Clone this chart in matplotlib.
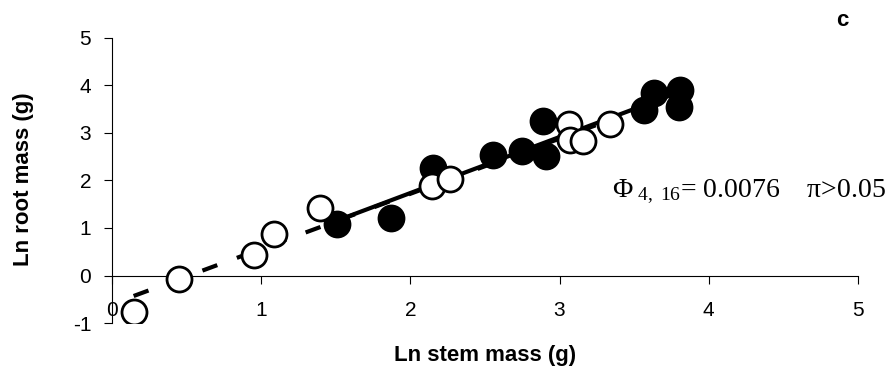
import numpy as np
import matplotlib
matplotlib.use("Agg")
import matplotlib.pyplot as plt

# open circles (dashed fit)
open_x = [0.145, 0.45, 0.953, 1.087, 1.395, 2.147, 2.266, 3.065, 3.07, 3.155, 3.34]
open_y = [-0.76, -0.08, 0.44, 0.875, 1.41, 1.88, 2.02, 3.19, 2.85, 2.82, 3.19]
# filled circles (solid fit)
fill_x = [1.507, 1.869, 2.155, 2.556, 2.75, 2.91, 2.89, 3.565, 3.63, 3.81, 3.80]
fill_y = [1.08, 1.20, 2.26, 2.54, 2.61, 2.51, 3.24, 3.48, 3.84, 3.90, 3.54]

xticks = [0, 1, 2, 3, 4, 5]
yticks = [-1, 0, 1, 2, 3, 4, 5]

plt.rcParams['font.family'] = ['Liberation Sans', 'DejaVu Sans']
plt.rcParams['axes.unicode_minus'] = False
plt.rcParams['mathtext.fontset'] = 'custom'
plt.rcParams['mathtext.rm'] = 'Liberation Serif'
plt.rcParams['mathtext.it'] = 'Liberation Serif'

fig = plt.figure(figsize=(8.89, 3.81), dpi=100)
ax = fig.add_axes([0.126, 0.152, 0.839, 0.749])

# regression lines
po = np.polyfit(open_x, open_y, 1)
pf = np.polyfit(fill_x, fill_y, 1)
xo = np.array([min(open_x), max(open_x)])
xf = np.array([min(fill_x), max(fill_x)])
ax.plot(xo, np.polyval(po, xo), color='black', lw=3, ls=(0, (3.8, 5)), zorder=1)
ax.plot(xf, np.polyval(pf, xf), color='black', lw=3, zorder=1)

ax.plot(fill_x, fill_y, 'o', ms=18, mfc='black', mec='black', mew=2, zorder=2)
ax.plot(open_x, open_y, 'o', ms=18, mfc='white', mec='black', mew=2, zorder=3)

ax.set_xlim(0, 5)
ax.set_ylim(-1, 5)
ax.set_xticks(xticks)
ax.set_yticks(yticks)
ax.spines['top'].set_visible(False)
ax.spines['right'].set_visible(False)
ax.spines['bottom'].set_position(('data', 0))
for s in ('left', 'bottom'):
    ax.spines[s].set_linewidth(0.8)
ax.tick_params(axis='x', direction='out', length=6, width=0.8, pad=12, labelsize=15)
ax.tick_params(axis='y', direction='out', length=6, width=0.8, pad=9, labelsize=15)
for lab in ax.get_xticklabels() + ax.get_yticklabels():
    lab.set_clip_on(False)

fig.text(0.5455, 0.068, 'Ln stem mass (g)', ha='center', va='center', fontsize=16, fontweight='bold')
fig.text(0.026, 0.53, 'Ln root mass (g)', ha='center', va='center', rotation=90, fontsize=16, fontweight='bold')
fig.text(0.948, 0.947, 'c', ha='center', va='center', fontsize=16, fontweight='bold')

fig.text(0.688, 0.483, r'$\Phi_{\ 4,\ 16}$= 0.0076    π>0.05', ha='left', va='baseline',
         fontsize=20, family=['Liberation Serif', 'DejaVu Serif'])

fig.savefig('out.png', dpi=100)
